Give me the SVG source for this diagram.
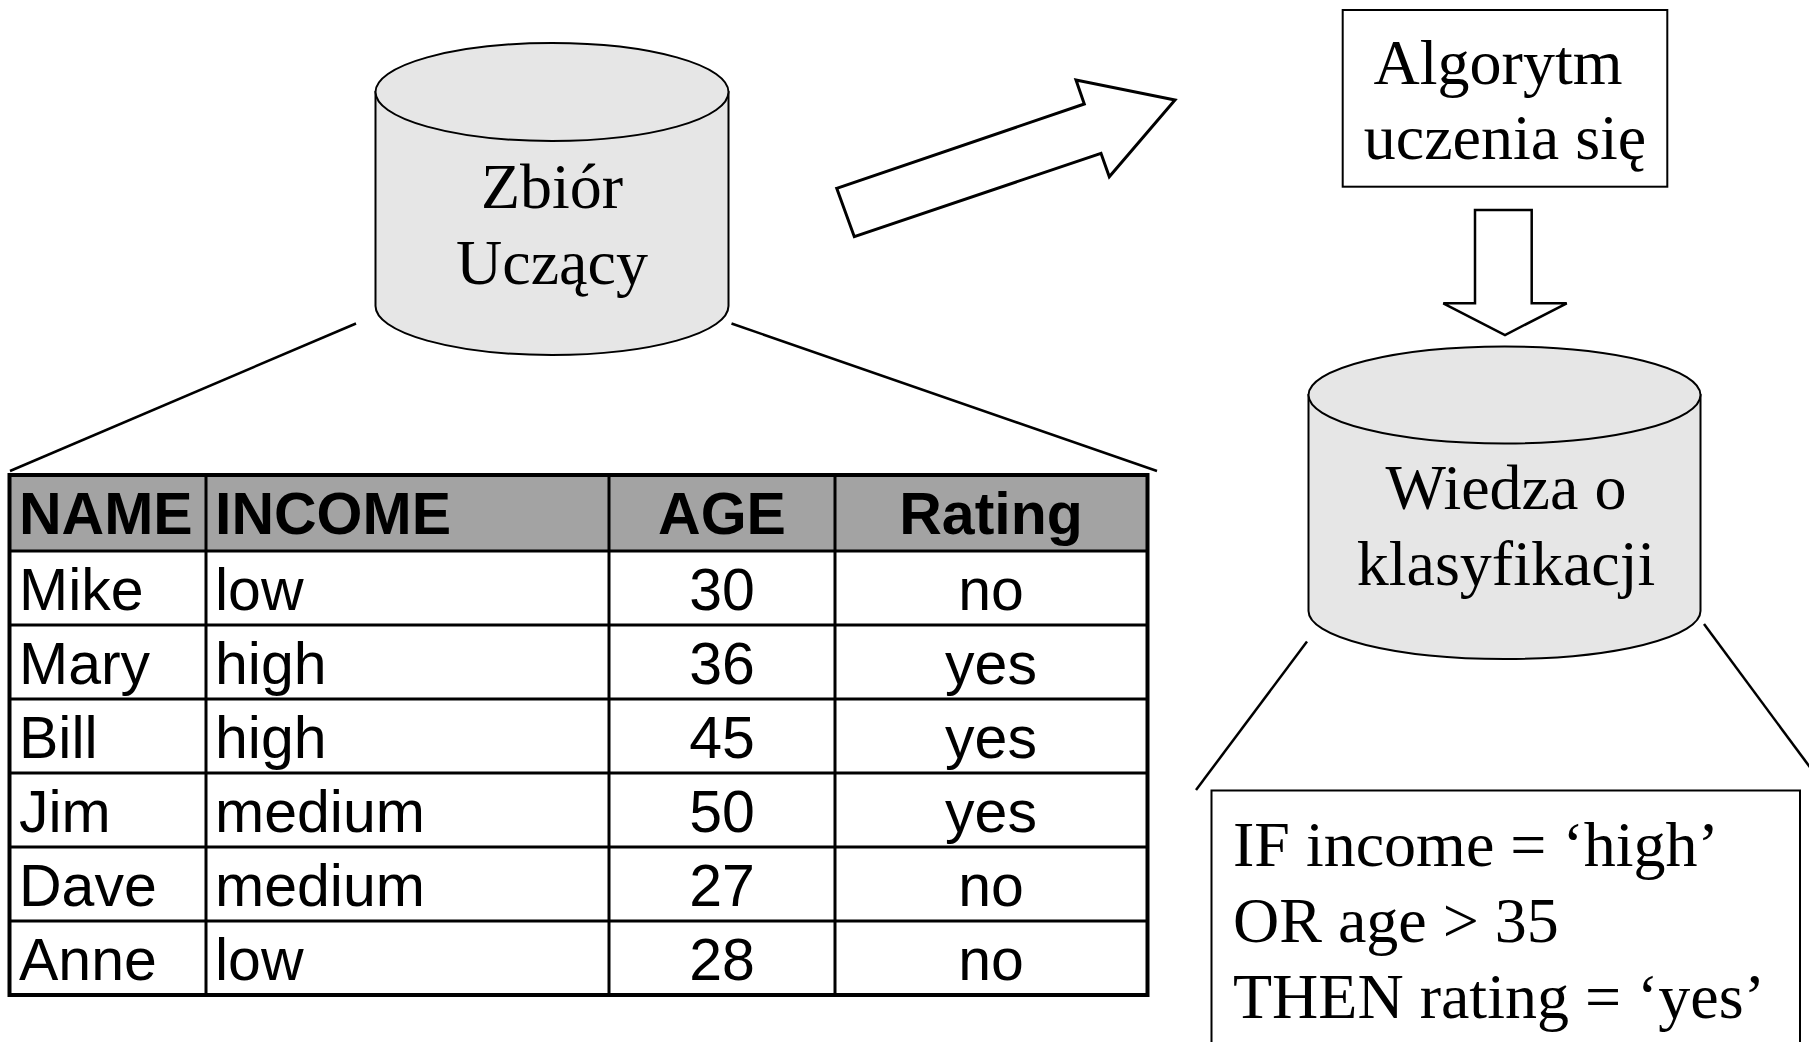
<svg xmlns="http://www.w3.org/2000/svg" width="1809" height="1042" viewBox="0 0 1809 1042">
<style>
.serif{font-family:"Liberation Serif","Times New Roman",serif;font-size:64px;fill:#000}
.sans{font-family:"Liberation Sans",Arial,sans-serif;font-size:59px;fill:#000}
.bold{font-weight:bold}
.mid{text-anchor:middle}
.cyl{fill:#e6e6e6;stroke:#000;stroke-width:2}
.ln{stroke:#000;stroke-width:2.5;fill:none}
.grid{stroke:#000;stroke-width:3;fill:none}
.blk{fill:#fff;stroke:#000}
</style>
<rect width="1809" height="1042" fill="#fff"/>
<g id="connectors">
<line class="ln" x1="356" y1="323.5" x2="10" y2="471"/>
<line class="ln" x1="731.5" y1="323.5" x2="1157" y2="471"/>
<line class="ln" x1="1307" y1="641.5" x2="1196" y2="790"/>
<line class="ln" x1="1704" y1="624" x2="1812" y2="770"/>
<polygon class="blk" stroke-width="3" stroke-linejoin="miter" points="836.7,188.3 1084.3,104 1076,80 1175,100 1109.3,176.7 1101,153.3 854.3,236.7"/>
<polygon class="blk" stroke-width="2.5" points="1475,210 1531.7,210 1531.7,303.3 1566.7,303.3 1505,335 1443.3,303.3 1475,303.3"/>
</g>
<g id="zbior-uczacy">
<path class="cyl" d="M375.5,92 V306 A176.5,49 0 0 0 728.5,306 V92 Z"/>
<ellipse class="cyl" cx="552" cy="92" rx="176.5" ry="49"/>
<text class="serif mid" x="552" y="208">Zbiór</text>
<text class="serif mid" x="552" y="284">Uczący</text>
</g>
<g id="algorytm">
<rect x="1342.7" y="10" width="324.6" height="176.7" fill="#fff" stroke="#000" stroke-width="2"/>
<text class="serif mid" x="1498" y="84">Algorytm</text>
<text class="serif mid" x="1505" y="159">uczenia się</text>
</g>
<g id="wiedza">
<path class="cyl" d="M1308.5,395 V611 A196,48 0 0 0 1700.5,611 V395 Z"/>
<ellipse class="cyl" cx="1504.5" cy="395" rx="196" ry="48.5"/>
<text class="serif mid" x="1506" y="509">Wiedza o</text>
<text class="serif mid" x="1506" y="585">klasyfikacji</text>
</g>
<g id="table">
<rect x="9.5" y="475" width="1138" height="76" fill="#a3a3a3"/>
<rect x="9.5" y="551" width="1138" height="444" fill="#fff"/>
<line class="grid" x1="9.5" y1="551" x2="1147.5" y2="551"/>
<line class="grid" x1="9.5" y1="625" x2="1147.5" y2="625"/>
<line class="grid" x1="9.5" y1="699" x2="1147.5" y2="699"/>
<line class="grid" x1="9.5" y1="773" x2="1147.5" y2="773"/>
<line class="grid" x1="9.5" y1="847" x2="1147.5" y2="847"/>
<line class="grid" x1="9.5" y1="921" x2="1147.5" y2="921"/>
<line class="grid" x1="206" y1="475" x2="206" y2="995"/>
<line class="grid" x1="609" y1="475" x2="609" y2="995"/>
<line class="grid" x1="835" y1="475" x2="835" y2="995"/>
<rect x="9.5" y="475" width="1138" height="520" fill="none" stroke="#000" stroke-width="4"/>
<text class="sans bold" x="19" y="534">NAME</text>
<text class="sans bold" x="215" y="534">INCOME</text>
<text class="sans bold mid" x="722" y="534">AGE</text>
<text class="sans bold mid" x="991" y="534">Rating</text>
<text class="sans" x="19" y="610">Mike</text>
<text class="sans" x="215" y="610">low</text>
<text class="sans mid" x="722" y="610">30</text>
<text class="sans mid" x="991" y="610">no</text>
<text class="sans" x="19" y="684">Mary</text>
<text class="sans" x="215" y="684">high</text>
<text class="sans mid" x="722" y="684">36</text>
<text class="sans mid" x="991" y="684">yes</text>
<text class="sans" x="19" y="758">Bill</text>
<text class="sans" x="215" y="758">high</text>
<text class="sans mid" x="722" y="758">45</text>
<text class="sans mid" x="991" y="758">yes</text>
<text class="sans" x="19" y="832">Jim</text>
<text class="sans" x="215" y="832">medium</text>
<text class="sans mid" x="722" y="832">50</text>
<text class="sans mid" x="991" y="832">yes</text>
<text class="sans" x="19" y="906">Dave</text>
<text class="sans" x="215" y="906">medium</text>
<text class="sans mid" x="722" y="906">27</text>
<text class="sans mid" x="991" y="906">no</text>
<text class="sans" x="19" y="980">Anne</text>
<text class="sans" x="215" y="980">low</text>
<text class="sans mid" x="722" y="980">28</text>
<text class="sans mid" x="991" y="980">no</text>
</g>
<g id="rule">
<rect x="1211.5" y="790.5" width="588.5" height="270" fill="#fff" stroke="#000" stroke-width="2"/>
<text class="serif" x="1233" y="866">IF income = ‘high’</text>
<text class="serif" x="1233" y="942">OR age &gt; 35</text>
<text class="serif" x="1233" y="1018">THEN rating = ‘yes’</text>
</g>
</svg>
